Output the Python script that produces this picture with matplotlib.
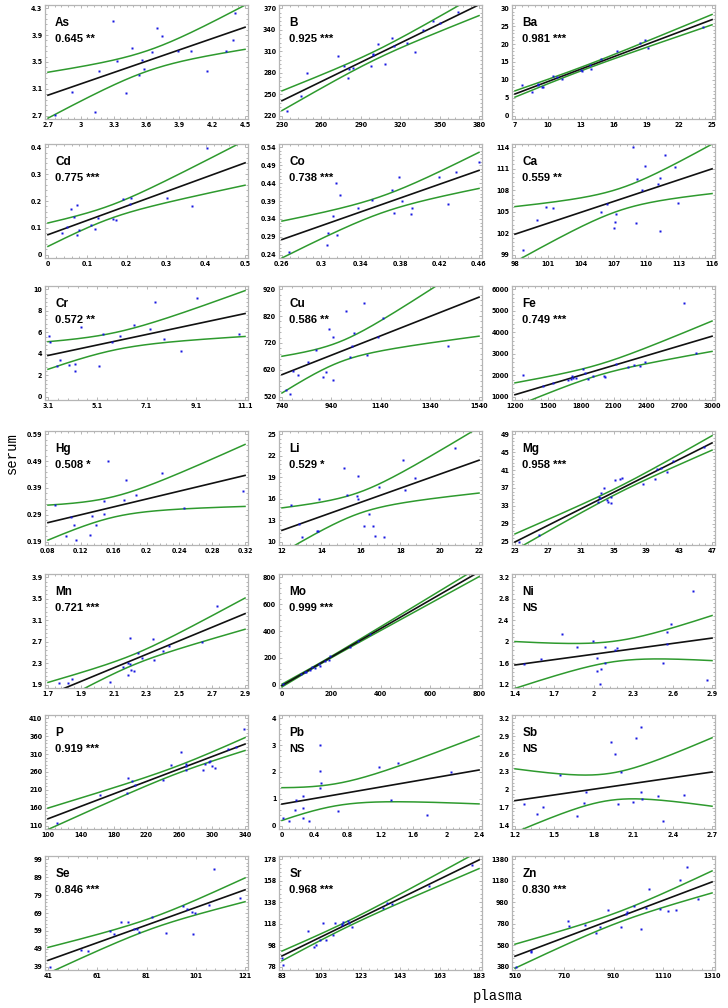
import numpy as np
import matplotlib.pyplot as plt
from matplotlib import font_manager
from matplotlib.ticker import AutoMinorLocator, FuncFormatter

# element names and correlation text as printed in each panel
elements = ['As', 'B', 'Ba', 'Cd', 'Co', 'Ca', 'Cr', 'Cu', 'Fe', 'Hg', 'Li', 'Mg',
            'Mn', 'Mo', 'Ni', 'P', 'Pb', 'Sb', 'Se', 'Sr', 'Zn']
r_text = ['0.645 **', '0.925 ***', '0.981 ***', '0.775 ***', '0.738 ***', '0.559 **',
          '0.572 **', '0.586 **', '0.749 ***', '0.508 *', '0.529 *', '0.958 ***',
          '0.721 ***', '0.999 ***', 'NS', '0.919 ***', 'NS', 'NS', '0.846 ***',
          '0.968 ***', '0.830 ***']

# plasma (x) and serum (y) values
as_x = [2.76, 2.92, 3.13, 3.17, 3.29, 3.33, 3.41, 3.47, 3.53, 3.555, 3.58, 3.654, 3.70, 3.74, 3.89, 4.01, 4.155, 4.33, 4.39, 4.41]
as_y = [2.71, 3.06, 2.76, 3.37, 4.11, 3.51, 3.04, 3.71, 3.31, 3.53, 3.40, 3.645, 4.01, 3.89, 3.67, 3.67, 3.37, 3.66, 3.82, 4.23]
b_x = [234.2, 244.3, 249.0, 272.4, 277.4, 280.3, 281.0, 283.8, 297.9, 299.0, 299.4, 303.0, 308.5, 313.4, 315.4, 325.0, 331.4, 337.6, 345.0, 350.2, 363.7]
b_y = [226.1, 247.2, 279.5, 303.9, 289.9, 272.0, 285.2, 286.6, 288.9, 306.7, 304.4, 320.3, 291.8, 328.8, 317.5, 321.7, 309.1, 339.1, 351.7, 348.9, 364.4]
ba_x = [7.68, 8.54, 9.07, 9.13, 9.46, 9.60, 10.43, 10.84, 11.32, 13.04, 13.10, 13.81, 13.92, 14.87, 16.32, 18.43, 18.84, 19.11, 24.17]
ba_y = [8.49, 6.50, 8.94, 8.67, 7.95, 7.95, 11.11, 10.84, 10.21, 12.83, 12.56, 14.09, 13.10, 15.81, 17.98, 20.33, 21.23, 18.79, 24.84]
cd_x = [0.0355, 0.048, 0.058, 0.066, 0.0736, 0.0736, 0.0793, 0.110, 0.120, 0.128, 0.164, 0.172, 0.191, 0.207, 0.211, 0.303, 0.365, 0.403]
cd_y = [0.0807, 0.1028, 0.1688, 0.140, 0.1859, 0.0734, 0.0930, 0.110, 0.0966, 0.136, 0.133, 0.131, 0.206, 0.187, 0.211, 0.213, 0.180, 0.396]
co_x = [0.267, 0.306, 0.307, 0.312, 0.315, 0.316, 0.319, 0.337, 0.351, 0.372, 0.374, 0.379, 0.382, 0.391, 0.392, 0.419, 0.429, 0.437, 0.460]
co_y = [0.2465, 0.268, 0.301, 0.347, 0.439, 0.296, 0.406, 0.371, 0.393, 0.421, 0.357, 0.457, 0.390, 0.354, 0.371, 0.457, 0.382, 0.470, 0.498]
ca_x = [98.74, 100.01, 100.87, 101.49, 105.85, 106.44, 107.24, 107.06, 107.12, 108.75, 109.04, 109.13, 109.63, 109.90, 111.09, 111.21, 111.27, 111.7, 112.6, 112.9]
ca_y = [99.64, 103.83, 105.71, 105.48, 105.03, 106.08, 104.75, 102.77, 103.60, 114.0, 103.46, 109.63, 108.06, 111.33, 108.89, 109.76, 102.31, 112.9, 111.24, 106.19]
cr_x = [3.14, 3.19, 3.48, 3.59, 3.95, 4.18, 4.19, 4.44, 5.19, 5.34, 5.68, 6.04, 6.58, 7.24, 7.43, 7.81, 8.52, 9.16, 10.86]
cr_y = [5.63, 5.12, 2.89, 3.40, 2.98, 3.01, 2.41, 6.48, 2.89, 5.81, 5.06, 5.63, 6.69, 6.33, 8.83, 5.39, 4.22, 9.22, 5.87]
cu_x = [756.7, 771.5, 786.3, 804.8, 845.5, 877.0, 906.6, 919.6, 932.6, 947.4, 947.4, 999.3, 1016, 1023, 1034, 1075, 1086, 1129, 1151, 1416]
cu_y = [544.8, 528.7, 614.1, 601.7, 647.6, 693.4, 594.3, 610.4, 771.4, 581.9, 741.6, 839.5, 666.1, 709.5, 759.0, 870.5, 674.8, 742.9, 812.2, 708.2]
fe_x = [1273, 1459, 1550, 1684, 1709, 1718, 1727, 1762, 1822, 1840, 1870, 1913, 2017, 2021, 2125, 2233, 2285, 2341, 2389, 2743, 2850]
fe_y = [2009, 1512, 1652, 1776, 1823, 1963, 1854, 1885, 2289, 2118, 1823, 1978, 1978, 1916, 2506, 2382, 2460, 2444, 2600, 5379, 3034]
hg_x = [0.0885, 0.102, 0.108, 0.1115, 0.1147, 0.131, 0.134, 0.1386, 0.148, 0.148, 0.153, 0.172, 0.175, 0.187, 0.219, 0.246, 0.317]
hg_y = [0.327, 0.212, 0.282, 0.254, 0.195, 0.216, 0.287, 0.254, 0.292, 0.340, 0.491, 0.345, 0.419, 0.363, 0.444, 0.317, 0.378]
li_x = [12.44, 12.88, 13.02, 13.76, 13.81, 13.88, 15.17, 15.31, 15.87, 15.82, 15.87, 16.14, 16.40, 16.63, 16.70, 16.93, 17.16, 18.16, 18.25, 18.76, 20.80]
li_y = [15.19, 12.48, 10.67, 11.48, 11.57, 15.95, 20.29, 16.48, 19.14, 16.38, 15.90, 12.19, 13.86, 12.19, 10.81, 17.62, 10.67, 21.43, 17.19, 18.86, 23.10]
mg_x = [23.55, 25.88, 33.09, 33.2, 33.3, 33.47, 33.8, 34.2, 34.36, 34.75, 34.75, 35.14, 35.75, 36.02, 38.57, 40.0, 40.35, 40.79, 41.46, 42.3, 46.0]
mg_y = [25.0, 26.45, 33.8, 34.9, 34.7, 35.8, 36.9, 34.3, 33.95, 33.6, 34.9, 38.8, 38.96, 39.25, 37.94, 39.1, 41.2, 41.4, 40.6, 43.0, 46.1]
mn_x = [1.77, 1.82, 1.847, 2.08, 2.155, 2.185, 2.197, 2.185, 2.2, 2.203, 2.222, 2.247, 2.275, 2.34, 2.344, 2.4, 2.44, 2.64, 2.728]
mn_y = [1.937, 1.925, 2.005, 1.95, 2.227, 2.31, 2.775, 2.086, 2.29, 2.18, 2.16, 2.486, 2.406, 2.75, 2.37, 2.52, 2.63, 2.69, 3.365]
mo_x = [5.6, 76, 95, 98, 113, 121, 135, 150, 154, 173, 191, 197, 275, 308, 358]
mo_y = [7.3, 81, 93, 98, 110, 135, 125, 154, 142, 174, 184, 215, 282, 326, 377]
ni_x = [1.466, 1.598, 1.758, 1.869, 1.993, 2.028, 2.052, 2.028, 2.045, 2.083, 2.087, 2.16, 2.18, 2.528, 2.556, 2.587, 2.56, 2.757, 2.858]
ni_y = [1.578, 1.671, 2.149, 1.90, 2.012, 1.696, 1.485, 1.454, 1.206, 1.907, 1.603, 1.839, 1.876, 1.597, 2.174, 2.322, 1.963, 2.937, 1.293]
p_x = [111.2, 163.5, 197.8, 196.7, 202.3, 206.2, 240.5, 250.1, 261.9, 267.5, 268.1, 267.5, 288.3, 291.1, 295.6, 297.2, 299.5, 302.9, 319.8, 328.8, 339.0]
p_y = [116.4, 194.6, 242.4, 201.0, 235.0, 223.0, 236.9, 280.0, 316.8, 281.9, 275.4, 265.3, 265.3, 282.8, 289.2, 292.0, 277.3, 271.8, 324.2, 330.6, 379.3]
pb_x = [0.016, 0.082, 0.164, 0.175, 0.251, 0.251, 0.256, 0.333, 0.464, 0.469, 0.48, 0.469, 0.687, 1.178, 1.331, 1.413, 1.768, 2.063]
pb_y = [0.289, 0.169, 0.602, 0.964, 0.651, 0.289, 1.108, 0.193, 3.0, 2.024, 1.59, 1.41, 0.554, 2.193, 0.976, 2.35, 0.41, 2.012]
sb_x = [1.27, 1.368, 1.41, 1.546, 1.672, 1.724, 1.738, 1.934, 1.959, 1.987, 2.004, 2.123, 2.158, 2.16, 2.165, 2.29, 2.33, 2.487, 2.10]
sb_y = [1.769, 1.59, 1.707, 2.244, 1.568, 1.78, 1.97, 2.81, 2.596, 1.77, 2.305, 2.875, 3.05, 1.97, 1.847, 1.897, 1.484, 1.914, 1.80]
se_x = [41.9, 54.6, 57.4, 66.3, 67.7, 70.8, 73.4, 76.0, 77.0, 77.8, 83.1, 88.9, 95.9, 97.6, 99.4, 100.7, 100.0, 106.3, 108.2, 118.9]
se_y = [39.0, 48.6, 47.9, 58.9, 57.4, 63.9, 63.9, 59.8, 59.8, 58.3, 67.0, 57.6, 72.8, 71.1, 69.7, 68.8, 57.2, 73.5, 93.3, 77.1]
sr_x = [83.0, 83.7, 96.2, 99.5, 100.4, 102.1, 103.9, 105.1, 109.0, 110.1, 113.4, 113.7, 114.0, 116.3, 117.2, 118.5, 134.5, 136.3, 138.7, 157.6, 179.5]
sr_y = [86.2, 79.5, 111.5, 96.0, 98.7, 103.3, 119.1, 103.0, 107.5, 118.8, 118.2, 116.6, 119.4, 120.9, 119.1, 115.1, 132.8, 137.4, 136.5, 153.1, 172.3]
zn_x = [514, 577, 577, 725, 729, 794, 838, 855, 889, 941, 960, 963, 994, 1021, 1040, 1053, 1099, 1131, 1164, 1181, 1209, 1253]
zn_y = [380, 525.7, 516, 807.4, 758, 770, 690, 752, 907, 746, 873, 885, 944, 733, 922, 1102, 916, 895, 910, 1186, 1307, 1013]

xs_all = [as_x, b_x, ba_x, cd_x, co_x, ca_x, cr_x, cu_x, fe_x, hg_x, li_x, mg_x,
          mn_x, mo_x, ni_x, p_x, pb_x, sb_x, se_x, sr_x, zn_x]
ys_all = [as_y, b_y, ba_y, cd_y, co_y, ca_y, cr_y, cu_y, fe_y, hg_y, li_y, mg_y,
          mn_y, mo_y, ni_y, p_y, pb_y, sb_y, se_y, sr_y, zn_y]

# axis tick ranges (start, stop, step)
x_ticks = [(2.7, 4.5, 0.3), (230, 380, 30), (7, 25, 3), (0, 0.5, 0.1), (0.26, 0.46, 0.04),
           (98, 116, 3), (3.1, 11.1, 2), (740, 1540, 200), (1200, 3000, 300),
           (0.08, 0.32, 0.04), (12, 22, 2), (23, 47, 4), (1.7, 2.9, 0.2), (0, 800, 200),
           (1.4, 2.9, 0.3), (100, 340, 40), (0, 2.4, 0.4), (1.2, 2.7, 0.3),
           (41, 121, 20), (83, 183, 20), (510, 1310, 200)]
y_ticks = [(2.7, 4.3, 0.4), (220, 370, 30), (0, 30, 5), (0, 0.4, 0.1), (0.24, 0.54, 0.05),
           (99, 114, 3), (0, 10, 2), (520, 920, 100), (1000, 6000, 1000),
           (0.19, 0.59, 0.1), (10, 25, 3), (25, 49, 4), (1.9, 3.9, 0.4), (0, 800, 200),
           (1.2, 3.2, 0.4), (110, 410, 50), (0, 4, 1), (1.4, 3.2, 0.3),
           (39, 99, 10), (78, 178, 20), (380, 1380, 200)]

names = {f.name for f in font_manager.fontManager.ttflist}
tick_font = 'Liberation Sans Narrow' if 'Liberation Sans Narrow' in names else 'DejaVu Sans'


def tvalue(df):
    z = 1.959964
    return (z + (z**3 + z) / (4 * df)
            + (5 * z**5 + 16 * z**3 + 3 * z) / (96 * df**2))


def tick_list(spec):
    a, b, s = spec
    return np.round(np.arange(a, b + s / 2, s), 6)


fig = plt.figure(figsize=(7.28, 10.08), dpi=100)
W, H = 728.0, 1008.0
col_left = [45, 279, 512]
row_bottom = [119, 258, 400, 545, 688, 829, 970]
aw, ah = 203, 114

for i, el in enumerate(elements):
    r, c = divmod(i, 3)
    ax = fig.add_axes([col_left[c] / W, 1 - row_bottom[r] / H, aw / W, ah / H])
    x = np.array(xs_all[i], float)
    y = np.array(ys_all[i], float)
    xt = tick_list(x_ticks[i])
    yt = tick_list(y_ticks[i])

    # least squares fit with 95% confidence band of the mean
    n = len(x)
    slope, icpt = np.polyfit(x, y, 1)
    res = y - (slope * x + icpt)
    s = np.sqrt(np.sum(res**2) / (n - 2))
    sxx = np.sum((x - x.mean())**2)
    xl = np.linspace(xt[0], xt[-1], 300)
    yl = slope * xl + icpt
    half = tvalue(n - 2) * s * np.sqrt(1.0 / n + (xl - x.mean())**2 / sxx)

    ax.plot(xl, yl + half, color='#2e9a2e', lw=1.1)
    ax.plot(xl, yl - half, color='#2e9a2e', lw=1.1)
    ax.plot(xl, yl, color='#111111', lw=1.2)
    ax.plot(x, y, 's', ms=2.0, color='#1616e0', mec='none')

    xr = xt[-1] - xt[0]
    yr = yt[-1] - yt[0]
    ax.set_xlim(xt[0] - 0.015 * xr, xt[-1] + 0.015 * xr)
    ax.set_ylim(yt[0] - 0.03 * yr, yt[-1] + 0.03 * yr)
    ax.set_xticks(xt)
    ax.set_yticks(yt)
    fmt = FuncFormatter(lambda v, p: '%g' % round(v, 4))
    ax.xaxis.set_major_formatter(fmt)
    ax.yaxis.set_major_formatter(fmt)
    ax.xaxis.set_minor_locator(AutoMinorLocator(5))
    ax.yaxis.set_minor_locator(AutoMinorLocator(5))
    ax.tick_params(which='both', direction='in', top=True, right=True,
                   color='#999999', width=0.5)
    ax.tick_params(which='major', length=2.5, pad=2, labelsize=5)
    ax.tick_params(which='minor', length=1.5)
    for lab in ax.get_xticklabels() + ax.get_yticklabels():
        lab.set_family(tick_font)
        lab.set_fontweight('bold')
        lab.set_fontstretch('condensed')
    for sp in ax.spines.values():
        sp.set_color('#b5b5b5')
        sp.set_linewidth(0.9)

    ax.text(0.05, 0.84, el, transform=ax.transAxes, fontsize=8.5, fontweight='bold',
            family='Liberation Sans', va='center')
    ax.text(0.05, 0.70, r_text[i], transform=ax.transAxes, fontsize=8, fontweight='bold',
            family='Liberation Sans', va='center')

fig.text(12 / W, 1 - 453 / H, 'serum', rotation=90, ha='center', va='center',
         family='Liberation Mono', fontsize=10)
fig.text(498 / W, 1 - 996 / H, 'plasma', ha='center', va='center',
         family='Liberation Mono', fontsize=10)

fig.savefig('out.png', dpi=100)
